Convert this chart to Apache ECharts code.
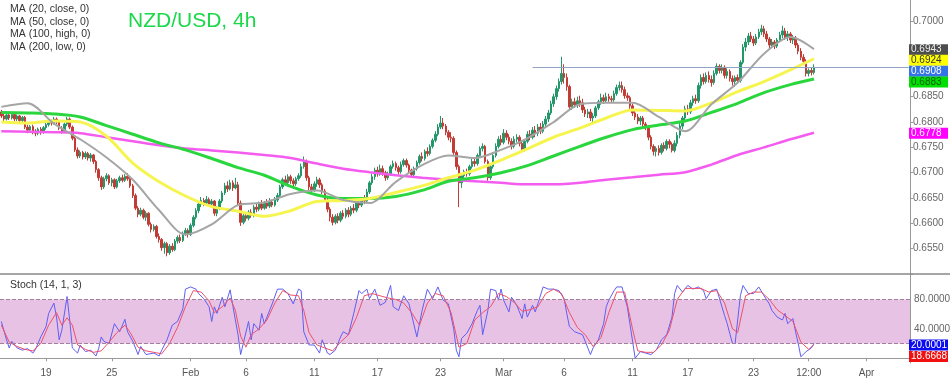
<!DOCTYPE html>
<html><head><meta charset="utf-8">
<script src="https://cdn.jsdelivr.net/npm/echarts@6/dist/echarts.min.js"></script>
<style>html,body{margin:0;padding:0;background:#fff}#c{width:950px;height:380px}</style>
</head><body><div id="c"></div>
<script>
// ---------- data ----------
const NCAT = 346;
const tickIdx  = [17,42,72,93,119,143,167,191,214,240,261,286,307,329];
const tickText = ['19','25','Feb','6','11','17','23','Mar','6','11','17','23','12:00','Apr'];

// candles [open, close, low, high] in 1e-4 units
const candles = [
[6820,6812,6808,6824],[6812,6806,6800,6816],[6806,6814,6803,6817],[6814,6808,6804,6818],[6808,6815,6805,6819],
[6815,6806,6801,6818],[6806,6812,6802,6815],[6812,6803,6798,6814],[6803,6809,6800,6812],[6809,6790,6786,6812],
[6790,6784,6778,6795],[6784,6791,6780,6794],[6791,6782,6776,6795],[6782,6778,6772,6786],[6778,6786,6774,6789],
[6786,6780,6775,6790],[6780,6789,6777,6792],[6789,6795,6785,6799],[6795,6802,6791,6806],[6802,6798,6793,6805],
[6798,6806,6795,6810],[6806,6800,6796,6809],[6800,6788,6784,6803],[6788,6781,6777,6792],[6781,6796,6779,6799],
[6796,6806,6792,6810],[6806,6790,6786,6809],[6790,6768,6764,6793],[6768,6745,6741,6771],[6745,6733,6728,6750],
[6733,6740,6729,6744],[6740,6731,6726,6743],[6731,6738,6727,6742],[6738,6729,6724,6741],[6729,6735,6722,6739],
[6735,6722,6717,6737],[6722,6706,6700,6725],[6706,6690,6684,6709],[6690,6672,6666,6694],[6672,6688,6668,6692],
[6688,6694,6683,6699],[6694,6680,6676,6697],[6680,6686,6673,6690],[6686,6672,6668,6689],[6672,6684,6669,6688],
[6684,6690,6680,6694],[6690,6685,6681,6696],[6685,6693,6682,6697],[6693,6688,6684,6699],[6688,6674,6670,6691],
[6674,6655,6650,6678],[6655,6630,6626,6659],[6630,6618,6612,6634],[6618,6626,6614,6631],[6626,6612,6608,6629],
[6612,6620,6605,6624],[6620,6598,6594,6622],[6598,6588,6582,6602],[6588,6594,6584,6598],[6594,6574,6570,6597],
[6574,6568,6562,6580],[6568,6552,6546,6571],[6552,6560,6540,6564],[6560,6542,6535,6563],[6542,6555,6538,6559],
[6555,6548,6544,6561],[6548,6565,6545,6569],[6565,6572,6560,6576],[6572,6566,6561,6578],[6566,6580,6563,6584],
[6580,6586,6575,6591],[6586,6578,6572,6590],[6578,6596,6575,6600],[6596,6612,6592,6616],[6612,6625,6608,6630],
[6625,6638,6620,6642],[6638,6645,6632,6652],[6645,6640,6634,6650],[6640,6647,6636,6654],[6647,6638,6633,6651],
[6638,6644,6632,6648],[6644,6620,6615,6646],[6620,6630,6614,6634],[6630,6644,6626,6648],[6644,6660,6640,6664],
[6660,6674,6656,6680],[6674,6668,6662,6683],[6668,6680,6665,6686],[6680,6670,6664,6685],[6670,6676,6667,6690],
[6676,6640,6635,6682],[6640,6602,6595,6645],[6602,6615,6598,6620],[6615,6610,6604,6620],[6610,6622,6606,6626],
[6622,6616,6611,6628],[6616,6632,6612,6636],[6632,6628,6622,6640],[6628,6638,6624,6643],[6638,6630,6626,6646],
[6630,6640,6627,6644],[6640,6634,6629,6648],[6634,6642,6630,6650],[6642,6636,6632,6647],[6636,6646,6633,6652],
[6646,6655,6642,6660],[6655,6672,6650,6676],[6672,6686,6668,6690],[6686,6680,6674,6694],[6680,6692,6676,6697],
[6692,6684,6678,6696],[6684,6678,6672,6689],[6678,6688,6674,6692],[6688,6694,6684,6699],[6694,6712,6690,6718],
[6712,6722,6708,6732],[6722,6690,6684,6726],[6690,6672,6665,6694],[6672,6666,6660,6678],[6666,6678,6662,6683],
[6678,6686,6672,6692],[6686,6676,6670,6690],[6676,6664,6658,6680],[6664,6646,6642,6668],[6646,6628,6622,6650],
[6628,6612,6604,6632],[6612,6602,6596,6618],[6602,6614,6598,6618],[6614,6606,6600,6620],[6606,6620,6602,6624],
[6620,6614,6608,6626],[6614,6626,6610,6630],[6626,6618,6612,6632],[6618,6630,6614,6634],[6630,6626,6620,6638],
[6626,6640,6622,6644],[6640,6636,6630,6648],[6636,6648,6632,6652],[6648,6644,6638,6656],[6644,6662,6640,6668],
[6662,6680,6658,6684],[6680,6692,6676,6698],[6692,6705,6686,6710],[6705,6698,6692,6712],[6698,6708,6694,6716],
[6708,6700,6694,6714],[6700,6690,6684,6704],[6690,6698,6686,6702],[6698,6712,6694,6716],[6712,6718,6708,6724],
[6718,6710,6704,6722],[6710,6702,6696,6714],[6702,6716,6698,6722],[6716,6724,6712,6728],[6724,6715,6710,6728],
[6715,6705,6698,6718],[6705,6696,6690,6708],[6696,6708,6692,6712],[6708,6720,6704,6724],[6720,6732,6716,6736],
[6732,6728,6722,6740],[6728,6742,6724,6746],[6742,6738,6732,6750],[6738,6752,6734,6756],[6752,6764,6748,6768],
[6764,6776,6760,6782],[6776,6790,6772,6796],[6790,6798,6786,6812],[6798,6792,6786,6808],[6792,6780,6774,6796],
[6780,6770,6764,6784],[6770,6768,6760,6780],[6768,6740,6735,6772],[6740,6712,6706,6744],[6712,6680,6632,6716],
[6680,6694,6670,6698],[6694,6702,6688,6706],[6702,6698,6692,6708],[6698,6712,6694,6716],[6712,6722,6708,6728],
[6722,6718,6712,6730],[6718,6734,6714,6738],[6734,6748,6730,6752],[6748,6752,6742,6758],[6752,6722,6718,6755],
[6722,6690,6684,6726],[6690,6712,6686,6716],[6712,6734,6708,6740],[6734,6752,6730,6758],[6752,6766,6748,6772],
[6766,6760,6754,6774],[6760,6778,6756,6786],[6778,6770,6764,6784],[6770,6762,6756,6776],[6762,6752,6746,6768],
[6752,6766,6748,6772],[6766,6770,6760,6776],[6770,6758,6752,6774],[6758,6746,6742,6764],[6746,6762,6742,6766],
[6762,6776,6758,6782],[6776,6770,6764,6784],[6770,6784,6766,6790],[6784,6778,6770,6792],[6778,6790,6772,6796],
[6790,6782,6776,6798],[6782,6796,6778,6802],[6796,6806,6790,6812],[6806,6818,6800,6824],[6818,6836,6814,6842],
[6836,6850,6830,6856],[6850,6866,6844,6872],[6866,6880,6860,6886],[6880,6896,6874,6929],[6896,6888,6876,6914],
[6888,6870,6862,6896],[6870,6830,6826,6874],[6830,6840,6824,6846],[6840,6834,6828,6848],[6834,6842,6828,6850],
[6842,6838,6830,6852],[6838,6824,6818,6846],[6824,6816,6810,6830],[6816,6820,6808,6826],[6820,6808,6802,6826],
[6808,6812,6800,6818],[6812,6828,6808,6832],[6828,6840,6824,6844],[6840,6848,6834,6856],[6848,6842,6836,6854],
[6842,6850,6838,6858],[6850,6846,6840,6856],[6846,6844,6838,6852],[6844,6856,6840,6862],[6856,6868,6852,6874],
[6868,6872,6862,6880],[6872,6864,6858,6880],[6864,6852,6846,6870],[6852,6848,6842,6858],[6848,6832,6826,6852],
[6832,6818,6812,6836],[6818,6810,6804,6822],[6810,6802,6796,6816],[6802,6808,6794,6812],[6808,6796,6790,6812],
[6796,6790,6784,6800],[6790,6770,6764,6794],[6770,6752,6746,6774],[6752,6742,6734,6756],[6742,6748,6732,6752],
[6748,6740,6734,6754],[6740,6754,6736,6758],[6754,6748,6742,6760],[6748,6762,6744,6766],[6762,6756,6748,6766],
[6756,6744,6740,6760],[6744,6758,6740,6764],[6758,6774,6752,6780],[6774,6792,6768,6798],[6792,6808,6786,6812],
[6808,6826,6802,6832],[6826,6820,6814,6834],[6820,6838,6816,6844],[6838,6846,6832,6852],[6846,6842,6836,6854],
[6842,6872,6838,6878],[6872,6888,6866,6894],[6888,6880,6874,6896],[6880,6892,6876,6898],[6892,6884,6878,6900],
[6884,6878,6870,6892],[6878,6896,6874,6902],[6896,6910,6892,6916],[6910,6902,6896,6914],[6902,6908,6896,6914],
[6908,6892,6886,6912],[6892,6900,6886,6906],[6900,6886,6880,6904],[6886,6880,6872,6892],[6880,6888,6870,6892],
[6888,6882,6876,6894],[6882,6918,6878,6922],[6918,6948,6914,6954],[6948,6958,6940,6966],[6958,6970,6952,6976],
[6970,6964,6958,6978],[6964,6956,6950,6970],[6956,6968,6952,6974],[6968,6978,6964,6984],[6978,6984,6972,6992],
[6984,6974,6968,6990],[6974,6964,6958,6980],[6964,6952,6946,6968],[6952,6958,6946,6964],[6958,6950,6944,6962],
[6950,6962,6946,6966],[6962,6972,6958,6978],[6972,6980,6966,6990],[6980,6968,6962,6986],[6968,6974,6960,6980],
[6974,6962,6956,6978],[6962,6966,6954,6972],[6966,6952,6946,6970],[6952,6940,6934,6956],[6940,6928,6922,6946],
[6928,6920,6914,6934],[6920,6896,6890,6924],[6896,6902,6890,6906],[6902,6898,6892,6908],[6898,6908,6894,6914]
];

// moving averages sampled at these candle indices (1e-4 units)
const maIdx = [0,10,20,30,40,50,60,70,80,90,100,110,120,130,140,150,160,170,180,190,200,210,220,230,240,250,260,270,280,290,300,309];
const ma20  = [6830,6837,6797,6766,6730,6686,6626,6578,6598,6636,6641,6658,6665,6646,6640,6682,6715,6734,6729,6745,6768,6800,6835,6838,6838,6810,6782,6835,6878,6935,6968,6944];
const ma50  = [6800,6798,6802,6800,6772,6719,6682,6654,6633,6624,6614,6625,6643,6645,6649,6661,6674,6690,6705,6725,6747,6770,6788,6808,6824,6823,6822,6838,6860,6880,6903,6925];
const ma100 = [6819,6818,6816,6810,6793,6776,6759,6745,6728,6710,6695,6673,6656,6649,6649,6653,6665,6683,6690,6700,6714,6733,6752,6770,6785,6794,6802,6819,6837,6858,6874,6885];
const ma200 = [6782,6781,6780,6778,6770,6762,6754,6748,6744,6740,6735,6729,6718,6708,6701,6695,6690,6686,6683,6680,6677,6677,6680,6686,6691,6696,6701,6716,6735,6750,6766,6779];

// stochastic [candle index, value]
const stochK = [[0,50],[2,25],[3,14],[4,23],[6,14],[8,11],[10,13],[12,7],[13,12],[15,29],[17,43],[18,61],[20,75],[21,56],[22,25],[23,38],[25,84],[26,52],[27,14],[29,7],[30,18],[32,9],[34,11],[36,3],[37,13],[38,29],[39,23],[41,20],[43,47],[45,36],[47,53],[48,36],[50,23],[52,5],[53,16],[55,5],[58,7],[60,3],[61,11],[63,25],[65,45],[67,50],[69,67],[70,94],[72,97],[74,94],[75,88],[77,81],[79,70],[80,50],[81,70],[82,61],[84,83],[85,70],[87,93],[88,72],[90,32],[91,5],[92,20],[94,50],[95,25],[96,47],[98,38],[99,61],[100,47],[101,56],[103,74],[105,94],[107,94],[109,88],[111,74],[113,94],[114,92],[115,36],[117,18],[119,18],[121,7],[122,25],[124,7],[125,5],[127,11],[129,29],[130,36],[132,32],[134,61],[136,92],[137,88],[139,94],[140,81],[142,94],[144,72],[146,76],[148,99],[149,70],[151,65],[153,85],[155,74],[158,29],[160,65],[162,94],[164,81],[166,97],[168,79],[170,74],[172,40],[173,11],[174,2],[175,27],[177,34],[179,47],[181,65],[182,72],[183,32],[185,65],[186,94],[188,92],[189,79],[190,94],[191,79],[193,63],[194,83],[196,72],[198,54],[199,74],[200,56],[202,72],[203,63],[204,74],[206,97],[208,94],[210,94],[212,92],[214,81],[215,61],[216,43],[218,36],[221,32],[223,14],[224,5],[225,14],[227,25],[229,47],[230,70],[231,79],[233,92],[234,97],[236,97],[238,70],[239,47],[241,0],[243,9],[245,7],[247,5],[249,11],[251,25],[253,32],[255,56],[256,88],[257,99],[259,90],[261,99],[263,94],[265,97],[267,92],[268,81],[270,92],[272,94],[274,70],[275,58],[276,47],[278,20],[279,20],[281,85],[282,99],[284,88],[286,88],[288,97],[290,85],[292,74],[293,65],[295,56],[297,52],[298,61],[299,47],[301,54],[302,36],[303,20],[304,2],[306,9],[308,14],[309,20]];
const stochD = [[0,45],[3,22],[6,16],[9,12],[12,10],[15,20],[18,45],[21,62],[23,45],[25,55],[27,45],[29,18],[32,12],[35,8],[38,10],[41,22],[44,35],[47,45],[49,35],[52,15],[55,10],[58,8],[61,6],[64,20],[67,42],[70,70],[73,92],[76,90],[79,78],[81,62],[84,70],[87,82],[89,65],[91,30],[93,15],[95,32],[98,40],[101,52],[104,75],[107,92],[110,86],[113,85],[115,65],[117,35],[120,18],[123,14],[126,10],[129,22],[132,32],[135,55],[138,85],[141,88],[144,85],[147,82],[150,80],[153,75],[156,62],[159,45],[162,75],[165,88],[168,85],[171,62],[174,15],[177,20],[180,52],[183,62],[186,70],[189,88],[192,84],[195,76],[198,64],[201,66],[204,70],[207,88],[210,94],[213,88],[216,62],[219,42],[222,32],[225,16],[228,28],[231,62],[234,90],[237,90],[240,40],[242,10],[245,8],[248,8],[251,18],[254,38],[257,80],[260,95],[263,95],[266,95],[269,90],[272,92],[275,75],[278,40],[280,35],[283,85],[286,90],[289,90],[292,80],[295,66],[298,58],[301,50],[304,22],[307,12],[309,18.7]];

// last-value badges and reference line
const lastMA20 = 0.6943, lastMA50 = 0.6924, lastClose = 0.6908, lastMA100 = 0.6883, lastMA200 = 0.6778;
const lastK = 20.0001, lastD = 18.6668;
const hLineValue = 0.6908, hLineStart = 202;

// ---------- build ----------
const cats = Array.from({length: NCAT}, (_, i) => String(i));
const labelMap = {};
tickIdx.forEach((t, k) => { labelMap[t] = tickText[k]; });
const ohlc = candles.map(c => c.map(v => v / 10000));
const maSer = arr => maIdx.map((ix, k) => [ix, arr[k] / 10000]);
const FONT = 'Liberation Sans, Arial, sans-serif';
const CLEAR = 'rgba(0,0,0,0)';
const SEP = { id: 'sep', type: 'line', shape: { x1: 0, y1: 274, x2: 950, y2: 274 }, style: { stroke: '#888', lineWidth: 1.5 }, z: 10 };

const chart = echarts.init(document.getElementById('c'));
const option = {
  animation: false,
  backgroundColor: '#ffffff',
  textStyle: { fontFamily: FONT },
  title: [
    { text: 'MA (20, close, 0)\nMA (50, close, 0)\nMA (100, high, 0)\nMA (200, low, 0)', left: 10, top: 3, padding: 0,
      textStyle: { fontSize: 10.5, lineHeight: 12.5, fontWeight: 'normal', color: '#333', fontFamily: FONT } },
    { text: 'NZD/USD, 4h', left: 128, top: 11, padding: 0,
      textStyle: { fontSize: 21, fontWeight: 'normal', color: '#1ad84a', fontFamily: FONT } },
    { text: 'Stoch (14, 1, 3)', left: 10, top: 280, padding: 0,
      textStyle: { fontSize: 10.5, fontWeight: 'normal', color: '#333', fontFamily: FONT } }
  ],
  graphic: [SEP],
  grid: [
    { left: 0, right: 40, top: 0, height: 274 },
    { left: 0, right: 40, top: 274, height: 89 }
  ],
  xAxis: [
    { type: 'category', gridIndex: 0, data: cats, boundaryGap: true,
      axisLine: { show: false }, axisTick: { show: false }, axisLabel: { show: false }, splitLine: { show: false } },
    { type: 'category', gridIndex: 1, data: cats, boundaryGap: true,
      axisLine: { show: true, lineStyle: { color: '#999' } },
      axisTick: { show: true, alignWithLabel: true, length: 3, interval: (i) => labelMap[i] !== undefined, lineStyle: { color: '#999' } },
      axisLabel: { show: true, interval: (i) => labelMap[i] !== undefined, formatter: (v, i) => labelMap[i] || '',
        color: '#555', fontSize: 10, margin: 5, fontFamily: FONT },
      splitLine: { show: false } }
  ],
  yAxis: [
    { type: 'value', gridIndex: 0, position: 'right', min: 0.65, max: 0.7041, interval: 0.005,
      axisLine: { show: true, lineStyle: { color: '#999' } },
      axisTick: { show: true, length: 3, lineStyle: { color: '#999' } },
      axisLabel: { color: '#666', fontSize: 10, margin: 3, fontFamily: FONT, showMaxLabel: false,
        formatter: v => { const r = Math.round(v * 200); if (Math.abs(v * 200 - r) > 1e-6) return ''; if (r === 130 || r === 138 || r === 139) return ''; return v.toFixed(4); } },
      splitLine: { show: false } },
    { type: 'value', gridIndex: 1, position: 'right', min: -6.5, max: 114.6,
      axisLine: { show: true, lineStyle: { color: '#999' } }, axisTick: { show: false },
      axisLabel: { show: false }, splitLine: { show: false } }
  ],
  series: [
    { type: 'candlestick', xAxisIndex: 0, yAxisIndex: 0, data: ohlc, barWidth: 2,
      itemStyle: { color: '#23976a', color0: '#c23b35', borderColor: '#23976a', borderColor0: '#c23b35', borderWidth: 1 },
      markLine: { silent: true, symbol: 'none', data: [
        [{ coord: [String(hLineStart), hLineValue] }, { coord: [String(NCAT - 1), hLineValue] }]
      ], lineStyle: { color: '#93a3c4', width: 1, type: 'solid' }, label: { show: false } } },
    { type: 'line', name: 'MA200', xAxisIndex: 0, yAxisIndex: 0, data: maSer(ma200), smooth: 0.3, symbol: 'none',
      lineStyle: { color: '#f45cf0', width: 2.5 } },
    { type: 'line', name: 'MA100', xAxisIndex: 0, yAxisIndex: 0, data: maSer(ma100), smooth: 0.3, symbol: 'none',
      lineStyle: { color: '#2ad63e', width: 3 } },
    { type: 'line', name: 'MA50', xAxisIndex: 0, yAxisIndex: 0, data: maSer(ma50), smooth: 0.3, symbol: 'none',
      lineStyle: { color: '#f6f550', width: 3 } },
    { type: 'line', name: 'MA20', xAxisIndex: 0, yAxisIndex: 0, data: maSer(ma20), smooth: 0.3, symbol: 'none',
      lineStyle: { color: '#a5a5a5', width: 2 } },
    { type: 'line', name: '%K', xAxisIndex: 1, yAxisIndex: 1, data: stochK, symbol: 'none',
      lineStyle: { color: '#5f5ff2', width: 1 },
      markArea: { silent: true, itemStyle: { color: '#e8c2e5' }, data: [[{ yAxis: 20 }, { yAxis: 80 }]] } },
    { type: 'line', name: '%D', xAxisIndex: 1, yAxisIndex: 1, data: stochD, symbol: 'none',
      lineStyle: { color: '#f05068', width: 1 },
      markLine: { silent: true, symbol: 'none', data: [
        { yAxis: 80, lineStyle: { color: '#a0809c', width: 1, type: 'dashed' },
          label: { show: true, position: 'end', distance: 4, formatter: '80.0000', color: '#666', fontSize: 10, fontFamily: FONT } },
        { yAxis: 20, lineStyle: { color: '#a0809c', width: 1, type: 'dashed' }, label: { show: false } },
        { yAxis: 40, lineStyle: { color: CLEAR, width: 1 },
          label: { show: true, position: 'end', distance: 4, formatter: '40.0000', color: '#666', fontSize: 10, fontFamily: FONT } }
      ] } }
  ]
};
chart.setOption(option);

// value badges on the right axis, placed through the axis scales
const badgeSpec = [
  { axis: 0, v: lastMA20,  dy: 0,  bg: '#4d4d4d', fg: '#f0f0f0' },
  { axis: 0, v: lastMA50,  dy: 1,  bg: '#ffff00', fg: '#333333' },
  { axis: 0, v: lastClose, dy: 4,  bg: '#3474e6', fg: '#ffffff' },
  { axis: 0, v: lastMA100, dy: 2,  bg: '#00e000', fg: '#145a14' },
  { axis: 0, v: lastMA200, dy: 0,  bg: '#ff00ff', fg: '#ffffff' },
  { axis: 1, v: lastK,     dy: 1.5, bg: '#0c0cf0', fg: '#ffffff' },
  { axis: 1, v: lastD,     dy: 12, bg: '#f01010', fg: '#ffffff' }
];
const xLeft = chart.convertToPixel({ gridIndex: 0 }, [0, 0.7])[0] + 910 - chart.convertToPixel({ gridIndex: 0 }, [0, 0.7])[0];
const badges = [];
badgeSpec.forEach((b, k) => {
  const y = chart.convertToPixel({ yAxisIndex: b.axis }, b.v) + b.dy;
  const txt = b.axis === 0 ? b.v.toFixed(4) : b.v.toFixed(4);
  badges.push({ id: 'br' + k, type: 'rect', shape: { x: 909, y: y - 5.5, width: 39, height: 11 }, style: { fill: b.bg }, z: 20 });
  badges.push({ id: 'bt' + k, type: 'text', x: 911, y: y, style: { text: txt, fill: b.fg, font: '10px ' + FONT, textVerticalAlign: 'middle', verticalAlign: 'middle' }, z: 21 });
});
chart.setOption({ graphic: [SEP].concat(badges) });
</script>
</body></html>
